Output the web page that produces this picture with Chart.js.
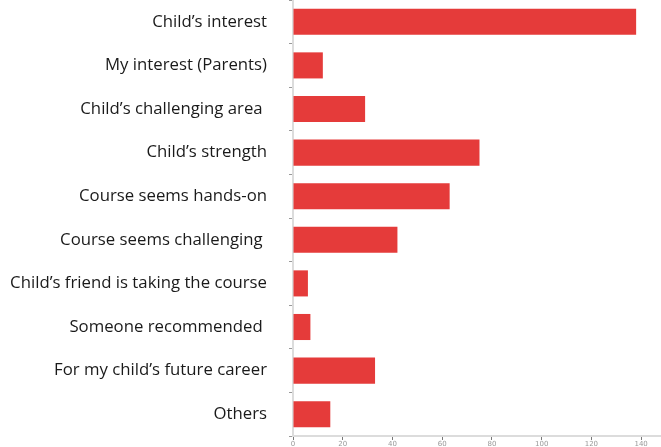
<!DOCTYPE html>
<html>
<head>
<meta charset="utf-8">
<script src="https://cdn.jsdelivr.net/npm/chart.js@4/dist/chart.umd.min.js"></script>
<style>
  html, body { margin: 0; padding: 0; background: #fff; }
  #wrap { width: 661px; height: 447px; position: relative; }
</style>
</head>
<body>
<div id="wrap"><canvas id="myChart"></canvas></div>
<script>
const reasons = [
    "Child\u2019s interest",
    "My interest (Parents)",
    "Child\u2019s challenging area ",
    "Child\u2019s strength",
    "Course seems hands-on",
    "Course seems challenging ",
    "Child\u2019s friend is taking the course",
    "Someone recommended ",
    "For my child\u2019s future career",
    "Others"
];
const counts = [138, 12, 29, 75, 63, 42, 6, 7, 33, 15];
const xTicks = [0, 20, 40, 60, 80, 100, 120, 140];

const ctx = document.getElementById('myChart').getContext('2d');

const myChart = new Chart(ctx, {
    type: 'bar',
    data: {
        labels: reasons,
        datasets: [{
            data: counts,
            backgroundColor: '#e53b3a',
            borderWidth: 0,
            barPercentage: 0.65,
            categoryPercentage: 0.92
        }]
    },
    options: {
        indexAxis: 'y',
        responsive: true,
        maintainAspectRatio: false,
        animation: false,
        layout: { padding: 0 },
        plugins: {
            legend: { display: false },
            tooltip: { enabled: false }
        },
        scales: {
            x: {
                min: 0,
                max: 148,
                afterBuildTicks: axis => { axis.ticks = xTicks.map(v => ({ value: v })); },
                afterFit: axis => { axis.height = 11; },
                border: { color: '#dcdcdc', width: 2 },
                grid: { drawOnChartArea: false, tickLength: 4, color: '#777', tickWidth: 1 },
                ticks: {
                    color: '#999',
                    padding: 0,
                    font: { family: 'DejaVu Sans', size: 7 }
                }
            },
            y: {
                border: { color: '#dcdcdc', width: 2 },
                grid: { drawOnChartArea: false, tickLength: 4, color: '#999', offset: true },
                ticks: {
                    color: '#1a1a1a',
                    padding: 22,
                    font: { family: 'Open Sans', size: 16.75 }
                },
                // fixed axis width, and no label half-height padding at top/bottom
                afterFit: axis => { axis.width = 293; axis.paddingTop = 0; axis.paddingBottom = 0; }
            }
        }
    }
});
</script>
</body>
</html>
